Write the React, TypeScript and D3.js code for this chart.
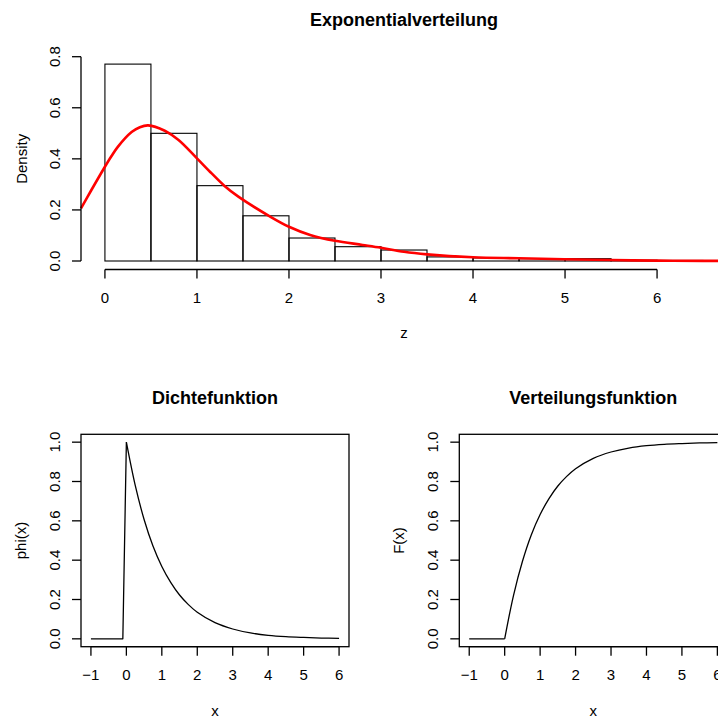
import React from 'react';
import * as d3 from 'd3';

// histogram (density scale), breaks of width 0.5
const histBreaks = [0, 0.5, 1, 1.5, 2, 2.5, 3, 3.5, 4, 4.5, 5, 5.5, 6, 6.5];
const histDensity = [0.771, 0.5, 0.295, 0.177, 0.09, 0.056, 0.043, 0.016, 0.012, 0.009, 0.009, 0.003, 0.002];

// kernel density estimate (red line)
const kdeZ = [-0.26, -0.15, 0, 0.07, 0.14, 0.29, 0.38, 0.47, 0.65, 0.8, 1.0, 1.16, 1.3, 1.45, 1.8, 2.0, 2.23, 2.5, 2.8, 3.0, 3.25, 3.5, 4.0, 4.5, 5.0, 5.5, 6.0, 6.5, 6.76];
const kdeD = [0.206, 0.276, 0.369, 0.41, 0.447, 0.505, 0.524, 0.531, 0.51, 0.474, 0.402, 0.343, 0.294, 0.252, 0.173, 0.134, 0.102, 0.079, 0.063, 0.052, 0.036, 0.026, 0.0145, 0.0105, 0.0066, 0.004, 0.0013, 0.0005, 0.0003];

// Dichtefunktion (first three points are the straight start, rest is the smooth decay)
const pdfX = [-1, -0.1, 0, 0.25, 0.5, 0.75, 1, 1.25, 1.5, 1.75, 2, 2.5, 3, 3.5, 4, 4.5, 5, 5.5, 6];
const pdfY = [0, 0, 1, 0.78, 0.607, 0.472, 0.368, 0.287, 0.223, 0.174, 0.135, 0.082, 0.05, 0.03, 0.018, 0.011, 0.007, 0.004, 0.0025];

// Verteilungsfunktion
const cdfX = [-1, -0.1, 0, 0.25, 0.5, 0.75, 1, 1.25, 1.5, 1.75, 2, 2.5, 3, 3.5, 4, 4.5, 5, 5.5, 6];
const cdfY = [0, 0, 0, 0.221, 0.393, 0.528, 0.632, 0.713, 0.777, 0.826, 0.865, 0.918, 0.95, 0.97, 0.982, 0.989, 0.993, 0.996, 0.9975];

const topXTicks = [0, 1, 2, 3, 4, 5, 6];
const topYTicks = [0, 0.2, 0.4, 0.6, 0.8];
const botXTicks = [-1, 0, 1, 2, 3, 4, 5, 6];
const botYTicks = [0, 0.2, 0.4, 0.6, 0.8, 1.0];

const FONT = '"Liberation Sans", Arial, Helvetica, sans-serif';
const fmtX = (v: number) => (v < 0 ? '\u2212' + Math.abs(v) : String(v));

function LinePanel({ left, xs, ys, title, ylab }: { left: number; xs: number[]; ys: number[]; title: string; ylab: string }) {
  const x = d3.scaleLinear().domain([-1.28, 6.28]).range([left, left + 268]);
  const y = d3.scaleLinear().domain([-0.04, 1.04]).range([646.7, 434.3]);
  const pts = xs.map((v, i) => [v, ys[i]] as [number, number]);
  const straight = d3.line<[number, number]>().x(d => x(d[0])).y(d => y(d[1]));
  const smooth = d3.line<[number, number]>().x(d => x(d[0])).y(d => y(d[1])).curve(d3.curveCatmullRom.alpha(0.5));
  const [x0, x1] = x.range();
  const [yb, yt] = y.range();
  const cx = (x0 + x1) / 2;
  return (
    <g>
      <text x={cx} y={404} textAnchor="middle" fontSize={18} fontWeight="bold">{title}</text>
      <rect x={x0} y={yt} width={x1 - x0} height={yb - yt} fill="none" stroke="#000" strokeWidth={1.3} />
      <path d={straight(pts.slice(0, 3)) || ''} fill="none" stroke="#000" strokeWidth={1.3} strokeLinejoin="round" />
      <path d={smooth(pts.slice(2)) || ''} fill="none" stroke="#000" strokeWidth={1.3} />
      <line x1={x(botXTicks[0])} x2={x(botXTicks[botXTicks.length - 1])} y1={yb} y2={yb} stroke="#000" strokeWidth={1.3} />
      {botXTicks.map(t => (
        <g key={t}>
          <line x1={x(t)} x2={x(t)} y1={yb} y2={yb + 9} stroke="#000" strokeWidth={1.3} />
          <text x={x(t)} y={yb + 33.3} textAnchor="middle" fontSize={15}>{fmtX(t)}</text>
        </g>
      ))}
      {botYTicks.map(t => (
        <g key={t}>
          <line x1={x0 - 9} x2={x0} y1={y(t)} y2={y(t)} stroke="#000" strokeWidth={1.3} />
          <text transform={`translate(${x0 - 21.5},${y(t)}) rotate(-90)`} textAnchor="middle" fontSize={15}>{t.toFixed(1)}</text>
        </g>
      ))}
      <text x={cx} y={yb + 69} textAnchor="middle" fontSize={15}>x</text>
      <text transform={`translate(${x0 - 55},${(yb + yt) / 2}) rotate(-90)`} textAnchor="middle" fontSize={15}>{ylab}</text>
    </g>
  );
}

export default function App() {
  // top panel: histogram with density line
  const x = d3.scaleLinear().domain([-0.26, 6.76]).range([81, 727]);
  const y = d3.scaleLinear().domain([0, 0.8]).range([261, 56.7]);
  const plotBottom = 269.5;
  const kdeLine = d3.line<number>().x((d, i) => x(kdeZ[i])).y(d => y(d)).curve(d3.curveCatmullRom.alpha(0.5));

  return (
    <svg width={718} height={718} style={{ position: 'absolute', left: 0, top: 0, background: '#fff' }} fontFamily={FONT}>
      <rect width={718} height={718} fill="#fff" />
      <text x={404} y={26} textAnchor="middle" fontSize={18} fontWeight="bold">Exponentialverteilung</text>
      {histDensity.map((d, i) => (
        <rect key={i} x={x(histBreaks[i])} y={y(d)} width={x(histBreaks[i + 1]) - x(histBreaks[i])} height={y(0) - y(d)}
          fill="none" stroke="#000" strokeWidth={1.1} />
      ))}
      <path d={kdeLine(kdeD) || ''} fill="none" stroke="#ff0000" strokeWidth={2.6} />
      <line x1={x(0)} x2={x(6)} y1={plotBottom} y2={plotBottom} stroke="#000" strokeWidth={1.3} />
      {topXTicks.map(t => (
        <g key={t}>
          <line x1={x(t)} x2={x(t)} y1={plotBottom} y2={plotBottom + 9} stroke="#000" strokeWidth={1.3} />
          <text x={x(t)} y={plotBottom + 33} textAnchor="middle" fontSize={15}>{t}</text>
        </g>
      ))}
      <line x1={81} x2={81} y1={y(0)} y2={y(0.8)} stroke="#000" strokeWidth={1.3} />
      {topYTicks.map(t => (
        <g key={t}>
          <line x1={72} x2={81} y1={y(t)} y2={y(t)} stroke="#000" strokeWidth={1.3} />
          <text transform={`translate(${81 - 21.5},${y(t)}) rotate(-90)`} textAnchor="middle" fontSize={15}>{t.toFixed(1)}</text>
        </g>
      ))}
      <text x={404} y={plotBottom + 68} textAnchor="middle" fontSize={15}>z</text>
      <text transform={`translate(${81 - 54},${(261 + 56.7) / 2}) rotate(-90)`} textAnchor="middle" fontSize={15}>Density</text>

      <LinePanel left={81} xs={pdfX} ys={pdfY} title="Dichtefunktion" ylab="phi(x)" />
      <LinePanel left={459.3} xs={cdfX} ys={cdfY} title="Verteilungsfunktion" ylab="F(x)" />
    </svg>
  );
}
